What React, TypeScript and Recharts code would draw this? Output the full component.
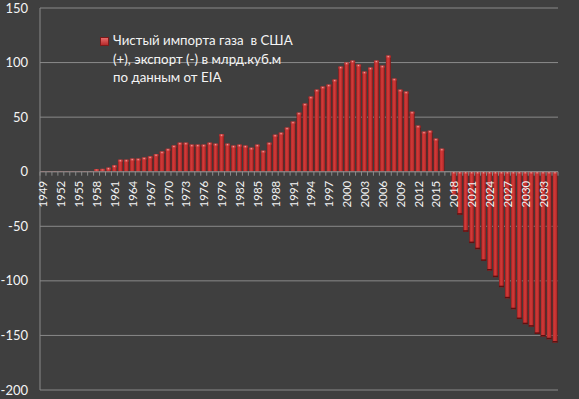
import { BarChart, Bar, XAxis, YAxis, CartesianGrid, ReferenceLine, Legend } from 'recharts';

// Net US natural gas imports (+) / exports (-), bcm, EIA data + projection
const years = [
  1949, 1950, 1951, 1952, 1953, 1954, 1955, 1956, 1957, 1958,
  1959, 1960, 1961, 1962, 1963, 1964, 1965, 1966, 1967, 1968,
  1969, 1970, 1971, 1972, 1973, 1974, 1975, 1976, 1977, 1978,
  1979, 1980, 1981, 1982, 1983, 1984, 1985, 1986, 1987, 1988,
  1989, 1990, 1991, 1992, 1993, 1994, 1995, 1996, 1997, 1998,
  1999, 2000, 2001, 2002, 2003, 2004, 2005, 2006, 2007, 2008,
  2009, 2010, 2011, 2012, 2013, 2014, 2015, 2016, 2017, 2018,
  2019, 2020, 2021, 2022, 2023, 2024, 2025, 2026, 2027, 2028,
  2029, 2030, 2031, 2032, 2033, 2034, 2035,
];

const netImports = [
  0.5, 0.5, 0.5, 0.5, 0.5, 0.5, 0.5, 0.5, 0.5, 2.4,
  2.6, 3.7, 5.8, 11, 11, 12, 12, 13, 14, 16,
  18.5, 21, 24, 26.6, 26.6, 24.8, 24.8, 24.8, 26.6, 25.7,
  34.3, 25.7, 23.9, 24.8, 23.9, 22, 24.8, 19.3, 26.6, 33.9,
  35.8, 40.4, 45.9, 54.1, 62.4, 68.8, 75.2, 78, 79.8, 84.4,
  96.3, 100, 101.8, 98.2, 91.7, 95.4, 101.8, 97.2, 106.4, 85.3,
  75.2, 73.4, 55, 42.2, 36.7, 37.6, 30.3, 21.1, 0, -22,
  -39.4, -55, -65.4, -71, -81.7, -90.5, -96.6, -105.8, -116, -126,
  -135, -139.7, -142, -148.6, -151, -153.5, -156.5,
];

const yTicks = [-200, -150, -100, -50, 0, 50, 100, 150];

const legendLines = [
  'Чистый импорта газа  в США',
  '(+), экспорт (-) в млрд.куб.м',
  'по данным от EIA',
];

const data = years.map((year, i) => ({ year, net: netImports[i] }));

const W = 579;
const H = 399;
const MARGIN = { top: 8, right: 21, bottom: 0, left: 0 };
const Y_AXIS_W = 40;
const X_AXIS_H = 9;
const Y_MIN = -200;
const Y_MAX = 150;
const PLOT_H = H - MARGIN.top - MARGIN.bottom - X_AXIS_H;
const PLOT_W = W - MARGIN.left - MARGIN.right - Y_AXIS_W;
const ZERO_Y = MARGIN.top + (Y_MAX / (Y_MAX - Y_MIN)) * PLOT_H;
const BAND = PLOT_W / years.length;

const BG = '#3f3f3f';
const GRID = '#8a8a8a';
const TEXT = '#f4f4f4';
const FONT = 'Lato, "Open Sans", sans-serif';

function YearTick({ x, payload, index }: any) {
  const left = x - BAND / 2;
  return (
    <g>
      <line x1={left} x2={left} y1={ZERO_Y} y2={ZERO_Y + 4} stroke={GRID} />
      {index === years.length - 1 && (
        <line x1={x + BAND / 2} x2={x + BAND / 2} y1={ZERO_Y} y2={ZERO_Y + 4} stroke={GRID} />
      )}
      {index % 3 === 0 && (
        <text
          transform={`translate(${x},${ZERO_Y + 9}) rotate(-90)`}
          textAnchor="end"
          dominantBaseline="central"
          fontSize={11.5}
          fontFamily={FONT}
          fill={TEXT}
        >
          {payload.value}
        </text>
      )}
    </g>
  );
}

function Column(props: any) {
  const { x, y, width, height, payload } = props;
  const top = Math.min(y, y + height);
  const h = Math.abs(height);
  if (!h || width <= 0) return null;
  const neg = payload.net < 0;
  const cap = Math.min(2, h);
  return (
    <g>
      <rect x={x} y={top} width={width} height={h} fill="url(#colGrad)" />
      <rect x={x} y={top} width={width} height={cap} fill="url(#capGrad)" />
      {h > 3 && (
        <rect x={x + width * 0.35} y={top + 0.5} width={1.2} height={1} fill="#f4a0a0" />
      )}
      {neg && h > 3 && (
        <rect x={x} y={top + h - 1.5} width={width} height={1.5} fill="#5e1010" />
      )}
    </g>
  );
}

function LegendBox() {
  return (
    <div style={{ display: 'flex', alignItems: 'flex-start', fontFamily: FONT }}>
      <div
        style={{
          width: 7,
          height: 7,
          marginTop: 6,
          marginRight: 4,
          background: 'linear-gradient(#e86a6a, #b52a2a)',
          border: '1px solid #7a1a1a',
        }}
      />
      <div style={{ color: TEXT, fontSize: 13.3, lineHeight: '18.5px', whiteSpace: 'pre' }}>
        {legendLines.map((line) => (
          <div key={line}>{line}</div>
        ))}
      </div>
    </div>
  );
}

export default function App() {
  return (
    <div style={{ position: 'fixed', left: 0, top: 0, width: W, height: H, background: BG }}>
      <BarChart
        width={W}
        height={H}
        data={data}
        margin={MARGIN}
        barCategoryGap="9%"
      >
        <defs>
          <linearGradient id="colGrad" x1="0" y1="0" x2="1" y2="0">
            <stop offset="0%" stopColor="#7a1818" />
            <stop offset="18%" stopColor="#c03030" />
            <stop offset="45%" stopColor="#d23a38" />
            <stop offset="80%" stopColor="#b42a2a" />
            <stop offset="100%" stopColor="#6a1414" />
          </linearGradient>
          <linearGradient id="capGrad" x1="0" y1="0" x2="1" y2="0">
            <stop offset="0%" stopColor="#a83030" />
            <stop offset="50%" stopColor="#e25a58" />
            <stop offset="100%" stopColor="#a02828" />
          </linearGradient>
        </defs>
        <CartesianGrid horizontal vertical={false} stroke={GRID} strokeWidth={1} />
        <XAxis
          dataKey="year"
          height={X_AXIS_H}
          interval={0}
          axisLine={false}
          tickLine={false}
          tick={<YearTick />}
        />
        <YAxis
          width={Y_AXIS_W}
          domain={[Y_MIN, Y_MAX]}
          ticks={yTicks}
          interval={0}
          axisLine={{ stroke: GRID }}
          tickLine={false}
          tickSize={0}
          tickMargin={12}
          tick={{ fill: TEXT, fontSize: 13, fontFamily: FONT }}
        />
        <ReferenceLine y={0} stroke={GRID} strokeWidth={1} />
        <Legend
          layout="vertical"
          align="center"
          verticalAlign="middle"
          wrapperStyle={{ left: 100, top: 31, width: 260 }}
          content={<LegendBox />}
        />
        <Bar dataKey="net" shape={<Column />} isAnimationActive={false} />
      </BarChart>
    </div>
  );
}
